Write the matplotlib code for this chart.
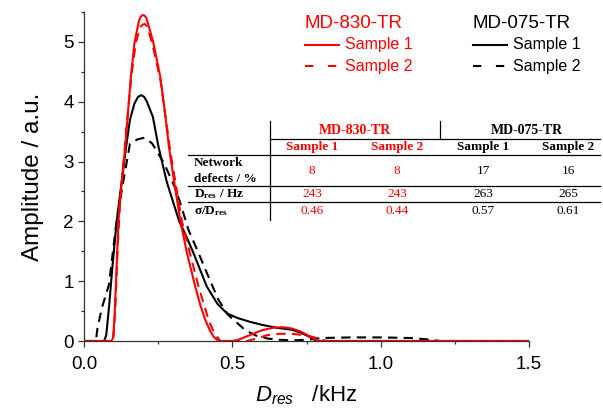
import matplotlib
matplotlib.use("Agg")
import matplotlib.pyplot as plt
from matplotlib.lines import Line2D
from matplotlib.ticker import MultipleLocator

plt.rcParams['font.family'] = ['Liberation Sans', 'DejaVu Sans']
plt.rcParams['mathtext.fontset'] = 'custom'
plt.rcParams['mathtext.it'] = 'Liberation Sans:italic'
plt.rcParams['mathtext.rm'] = 'Liberation Sans'
plt.rcParams['mathtext.bf'] = 'Liberation Serif:bold'

# ---- data ----
x_830_s1 = [0.0, 0.092, 0.098, 0.103, 0.108, 0.116, 0.127, 0.1385, 0.158, 0.170, 0.185, 0.191, 0.197,
            0.204, 0.21, 0.222, 0.234, 0.257, 0.272, 0.287, 0.304, 0.325, 0.347, 0.375, 0.392, 0.409,
            0.425, 0.437, 0.453, 0.50, 0.52, 0.56, 0.60, 0.64, 0.67, 0.70, 0.73, 0.76, 0.785, 0.80, 1.5]
y_830_s1 = [0.0, 0.0, 0.05, 0.4, 1.0, 2.0, 2.66, 3.22, 4.42, 4.98, 5.35, 5.42, 5.45,
            5.44, 5.40, 5.20, 4.98, 4.42, 3.85, 3.22, 2.66, 2.0, 1.47, 0.91, 0.60, 0.35,
            0.17, 0.07, 0.0, 0.0, 0.02, 0.10, 0.18, 0.225, 0.23, 0.21, 0.16, 0.08, 0.01, 0.0, 0.0]

x_830_s2 = [0.0, 0.095, 0.10, 0.106, 0.113, 0.12, 0.13, 0.142, 0.16, 0.175, 0.19, 0.198, 0.205, 0.212,
            0.22, 0.235, 0.258, 0.275, 0.29, 0.308, 0.33, 0.357, 0.386, 0.405, 0.42, 0.44, 0.46, 0.55,
            0.58, 0.62, 0.66, 0.70, 0.74, 0.77, 0.80, 0.82, 1.5]
y_830_s2 = [0.0, 0.0, 0.1, 0.6, 1.5, 2.2, 2.8, 3.5, 4.45, 5.0, 5.25, 5.29, 5.30, 5.26,
            5.15, 4.87, 4.35, 3.75, 3.2, 2.66, 2.0, 1.47, 0.91, 0.6, 0.35, 0.12, 0.0, 0.0,
            0.04, 0.10, 0.12, 0.12, 0.10, 0.07, 0.02, 0.0, 0.0]

x_075_s1 = [0.0, 0.068, 0.075, 0.085, 0.095, 0.11, 0.127, 0.142, 0.155, 0.17, 0.182, 0.193, 0.203,
            0.212, 0.232, 0.251, 0.279, 0.321, 0.343, 0.369, 0.414, 0.45, 0.482, 0.52, 0.56, 0.60,
            0.65, 0.70, 0.73, 0.76, 0.785, 1.5]
y_075_s1 = [0.0, 0.0, 0.1, 0.6, 1.2, 2.0, 2.66, 3.25, 3.70, 3.97, 4.08, 4.11, 4.08,
            4.0, 3.75, 3.25, 2.66, 2.0, 1.77, 1.47, 0.91, 0.62, 0.46, 0.38, 0.32, 0.27,
            0.22, 0.19, 0.14, 0.07, 0.0, 0.0]

x_075_s2 = [0.0, 0.04, 0.045, 0.06, 0.084, 0.107, 0.13, 0.155, 0.18, 0.205, 0.23, 0.27, 0.307,
            0.327, 0.352, 0.386, 0.42, 0.453, 0.487, 0.544, 0.58, 0.62, 0.66, 0.70, 0.75, 0.80,
            0.90, 1.0, 1.1, 1.15, 1.2, 1.5]
y_075_s2 = [0.0, 0.0, 0.2, 0.55, 0.94, 1.89, 2.6, 3.3, 3.37, 3.40, 3.30, 2.97, 2.56,
            2.27, 1.86, 1.47, 1.07, 0.69, 0.43, 0.18, 0.09, 0.04, 0.02, 0.01, 0.02, 0.05,
            0.06, 0.06, 0.05, 0.03, 0.0, 0.0]

legend_titles = ["MD-830-TR", "MD-075-TR"]
legend_labels = ["Sample 1", "Sample 2"]

table_groups = ["MD-830-TR", "MD-075-TR"]
table_samples = ["Sample 1", "Sample 2", "Sample 1", "Sample 2"]
network_defects = ["8", "8", "17", "16"]
d_res_hz = ["243", "243", "263", "265"]
sigma_ratio = ["0.46", "0.44", "0.57", "0.61"]

RED = "#ff0000"
BLACK = "#000000"
W, H = 603, 412

fig = plt.figure(figsize=(W / 100, H / 100), dpi=100)
ax = fig.add_axes([84 / W, 1 - 341 / H, (529 - 84) / W, (341 - 12) / H])

dash_plot = (4.5, 3)
ax.plot(x_075_s2, y_075_s2, color=BLACK, lw=1.5, dashes=dash_plot)
ax.plot(x_075_s1, y_075_s1, color=BLACK, lw=1.5)
ax.plot(x_830_s2, y_830_s2, color=RED, lw=1.5, dashes=dash_plot)
ax.plot(x_830_s1, y_830_s1, color=RED, lw=1.5)

ax.set_xlim(0, 1.5)
ax.set_ylim(0, 5.5)
ax.xaxis.set_minor_locator(MultipleLocator(0.25))
ax.yaxis.set_major_locator(MultipleLocator(1))
ax.yaxis.set_minor_locator(MultipleLocator(0.5))
ax.set_xticks([0, 0.5, 1.0, 1.5])
ax.set_xticklabels(["0.0", "0.5", "1.0", "1.5"])
for s in ['top', 'right']:
    ax.spines[s].set_visible(False)
for s in ['left', 'bottom']:
    ax.spines[s].set_color('#333333')
    ax.spines[s].set_linewidth(0.9)
ax.tick_params(which='major', direction='out', length=4.5, width=0.9, color='#333333',
               labelsize=13.5)
ax.tick_params(axis='x', which='major', pad=6)
ax.tick_params(axis='y', which='major', pad=3)
ax.tick_params(which='minor', direction='out', length=2.5, width=0.9, color='#333333')
ax.set_ylabel("Amplitude / a.u.", fontsize=17.5, labelpad=14)
ax.set_xlabel(r"$D_{res}$   /kHz", fontsize=16, labelpad=8)

# legends (drawn manually to match the original spacing)
def fx(px):
    return px / W

def fy(py):
    return 1 - py / H

def make_legend(color, title, x_px):
    fig.text(fx(x_px), fy(24), title, ha='left', va='center', fontsize=13.5, color=color)
    styles = [dict(), dict(dashes=(4, 7))]
    for lab, st, py in zip(legend_labels, styles, [45, 66]):
        fig.add_artist(Line2D([fx(x_px), fx(x_px + 34)], [fy(py), fy(py)], color=color,
                              lw=1.5, transform=fig.transFigure, **st))
        fig.text(fx(x_px + 40), fy(py), lab, ha='left', va='center', fontsize=11.5, color=color)

make_legend(RED, legend_titles[0], 305)
make_legend(BLACK, legend_titles[1], 473)

# table
serif = 'Liberation Serif'
tfs = 9.5
def hline(x0, x1, py):
    fig.add_artist(Line2D([fx(x0), fx(x1)], [fy(py), fy(py)], color='black', lw=0.9,
                          transform=fig.transFigure))

def vline(px, y0, y1):
    fig.add_artist(Line2D([fx(px), fx(px)], [fy(y0), fy(y1)], color='black', lw=0.9,
                          transform=fig.transFigure))

vline(269.5, 121, 220)
vline(440, 121, 139)
hline(269.5, 600, 139)
hline(188, 600, 155)
hline(188, 600, 186)
hline(188, 600, 202)

group_cx = [355, 527]
group_colors = [RED, BLACK]
for g, cx, c in zip(table_groups, group_cx, group_colors):
    fig.text(fx(cx), fy(130), g, ha='center', va='center', fontsize=tfs + 0.5,
             family=serif, weight='bold', color=c)

col_cx = [312, 397, 483, 568]
col_colors = [RED, RED, BLACK, BLACK]
for s, cx, c in zip(table_samples, col_cx, col_colors):
    fig.text(fx(cx), fy(147), s, ha='center', va='center', fontsize=tfs,
             family=serif, weight='bold', color=c)

fig.text(fx(194), fy(163), "Network", ha='left', va='center', fontsize=tfs,
         family=serif, weight='bold')
fig.text(fx(194), fy(179), "defects / %", ha='left', va='center', fontsize=tfs,
         family=serif, weight='bold')
fig.text(fx(194), fy(194.5), r"$\mathbf{D_{res}}$ / Hz", ha='left', va='center', fontsize=tfs,
         family=serif, weight='bold')
fig.text(fx(194), fy(211), r"σ/$\mathbf{D_{res}}$", ha='left', va='center', fontsize=tfs,
         family=serif, weight='bold')

for row, py in zip([network_defects, d_res_hz, sigma_ratio], [171, 194.5, 210.5]):
    for v, cx, c in zip(row, col_cx, col_colors):
        fig.text(fx(cx), fy(py), v, ha='center', va='center', fontsize=tfs,
                 family=serif, color=c)

fig.savefig("out.png", dpi=100)
